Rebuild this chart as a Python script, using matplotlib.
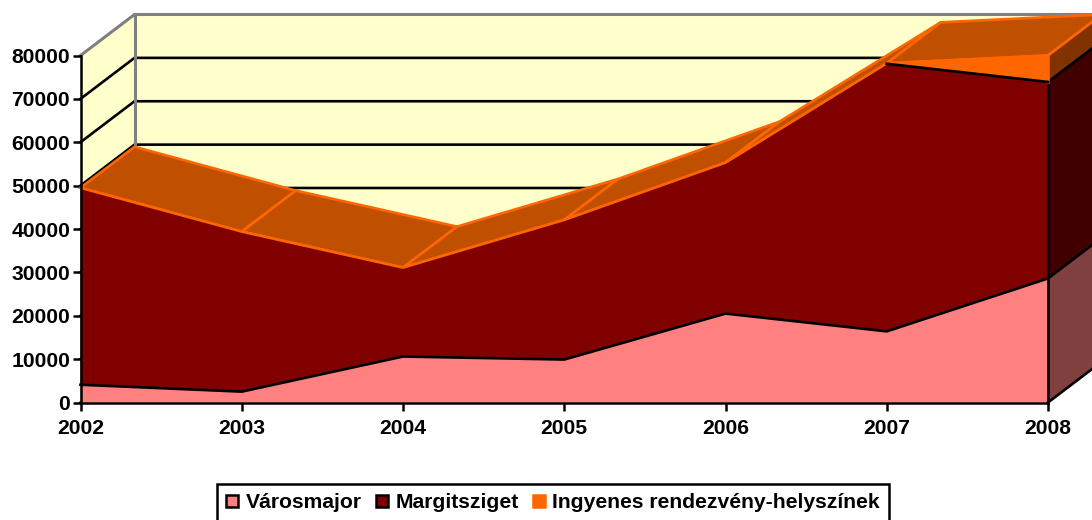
import numpy as np
import matplotlib
matplotlib.use("Agg")
import matplotlib.pyplot as plt
from matplotlib.patches import Patch

plt.rcParams['font.family'] = ['Liberation Sans', 'DejaVu Sans']

years = [2002, 2003, 2004, 2005, 2006, 2007, 2008]
varosmajor = [4100, 2500, 10600, 9900, 20500, 16400, 28600]
margitsziget = [45400, 36900, 20500, 32200, 34800, 61700, 45300]
ingyenes = [0, 0, 0, 0, 0, 100, 6100]
names = ['Városmajor', 'Margitsziget', 'Ingyenes rendezvény-helyszínek']
yticks = [0, 10000, 20000, 30000, 40000, 50000, 60000, 70000, 80000]

W, H = 1092, 520
fig = plt.figure(figsize=(W / 100, H / 100), dpi=100, facecolor='white')
ax = fig.add_axes([80.5 / W, 1 - 402.5 / H, (1048 - 80.5) / W, (402.5 - 55.5) / H])
ax.patch.set_visible(False)
ax.set_xlim(years[0], years[-1])
ax.set_ylim(0, yticks[-1])

DX = 54 / ((1048 - 80.5) / (years[-1] - years[0]))
DY = 41 / ((402.5 - 55.5) / yticks[-1])

x = np.array(years, float)
b0 = np.zeros(len(x))
b1 = b0 + np.array(varosmajor)
b2 = b1 + np.array(margitsziget)
b3 = b2 + np.array(ingyenes)

WALL = '#FFFFCC'
GRAY = '#808080'
LW = 1.9
kw = dict(clip_on=False)

# walls
x0, x1, ymax = x[0], x[-1], yticks[-1]
ax.fill([x0 + DX, x1 + DX, x1 + DX, x0 + DX], [DY, DY, ymax + DY, ymax + DY],
        fc=WALL, ec='none', zorder=1, **kw)
ax.fill([x0, x0 + DX, x0 + DX, x0], [0, DY, ymax + DY, ymax],
        fc=WALL, ec='none', zorder=1, **kw)
for t in yticks[:-1]:
    ax.plot([x0, x0 + DX, x1 + DX], [t, t + DY, t + DY], color='black', lw=LW, zorder=1.2,
            solid_joinstyle='miter', **kw)
ax.plot([x0, x0 + DX, x1 + DX], [ymax, ymax + DY, ymax + DY], color=GRAY, lw=2.2, zorder=1.3, **kw)
ax.plot([x0 + DX, x0 + DX], [DY, ymax + DY], color=GRAY, lw=2.2, zorder=1.3, **kw)

# top surface of the highest series
for i in range(len(x) - 1):
    ax.fill([x[i], x[i] + DX, x[i + 1] + DX, x[i + 1]],
            [b3[i], b3[i] + DY, b3[i + 1] + DY, b3[i + 1]],
            fc='#C05000', ec='#FF6600', lw=LW, zorder=1.5 + i * 0.01, joinstyle='miter', **kw)

# front faces
ax.fill(np.r_[x, x[::-1]], np.r_[b2, b3[::-1]], fc='#FF6600', ec='none', zorder=2.0, **kw)
ax.fill(np.r_[x, x[::-1]], np.r_[b1, b2[::-1]], fc='#800000', ec='none', zorder=2.1, **kw)
ax.fill(np.r_[x, x[::-1]], np.r_[b0, b1[::-1]], fc='#FF8080', ec='none', zorder=2.2, **kw)

# right-hand side faces
xr = x[-1]
sides = [(b0[-1], b1[-1], '#804040', 'black'),
         (b1[-1], b2[-1], '#400000', 'black'),
         (b2[-1], b3[-1], '#803300', '#FF6600')]
for lo, hi, fc, ec in sides:
    ax.fill([xr, xr + DX, xr + DX, xr], [lo, lo + DY, hi + DY, hi], fc=fc, ec='none', zorder=2.3, **kw)
    ax.plot([xr, xr + DX], [hi, hi + DY], color=ec, lw=LW, zorder=2.4, **kw)
ax.plot([xr, xr + DX], [0, DY], color='black', lw=LW, zorder=2.4, **kw)
ax.plot([xr, xr], [0, b2[-1]], color='black', lw=LW, zorder=2.4, **kw)
ax.plot([xr, xr], [b2[-1], b3[-1]], color='#FF6600', lw=LW, zorder=2.4, **kw)

# series outlines
ax.plot(x, b1, color='black', lw=LW, zorder=2.5, **kw)
ax.plot(x, b3, color='#FF6600', lw=LW, zorder=2.6, **kw)
ax.plot(x[5:], b2[5:], color='black', lw=LW, zorder=2.7, **kw)

for s in ('top', 'right'):
    ax.spines[s].set_visible(False)
for s in ('left', 'bottom'):
    ax.spines[s].set_linewidth(1.8)
    ax.spines[s].set_color('black')
    ax.spines[s].set_zorder(3)

FS = 15.2
ax.set_xticks(years)
ax.set_xticklabels([str(y) for y in years], fontsize=FS, fontweight='bold')
ax.set_yticks(yticks)
ax.set_yticklabels([str(t) for t in yticks], fontsize=FS, fontweight='bold')
ax.tick_params(axis='both', direction='out', length=5.5, width=1.8, color='black', zorder=3)
ax.tick_params(axis='x', pad=6.5)
ax.tick_params(axis='y', pad=2)

handles = [Patch(fc='#FF8080', ec='black', lw=1.8),
           Patch(fc='#800000', ec='black', lw=1.8),
           Patch(fc='#FF6600', ec='#FF6600', lw=1.8)]
leg = fig.legend(handles, names, loc='lower left', bbox_to_anchor=(216.5 / W, 1 - 522 / H),
                 bbox_transform=fig.transFigure, ncol=3, frameon=True, fancybox=False,
                 edgecolor='black', facecolor='white', framealpha=1,
                 prop={'size': FS, 'weight': 'bold', 'family': ['Liberation Sans', 'DejaVu Sans']},
                 handlelength=0.56, handleheight=0.56, handletextpad=0.36, columnspacing=0.68,
                 borderpad=0.45, borderaxespad=0)
leg.get_frame().set_linewidth(1.8)

fig.savefig('out.png', dpi=100, facecolor='white')
